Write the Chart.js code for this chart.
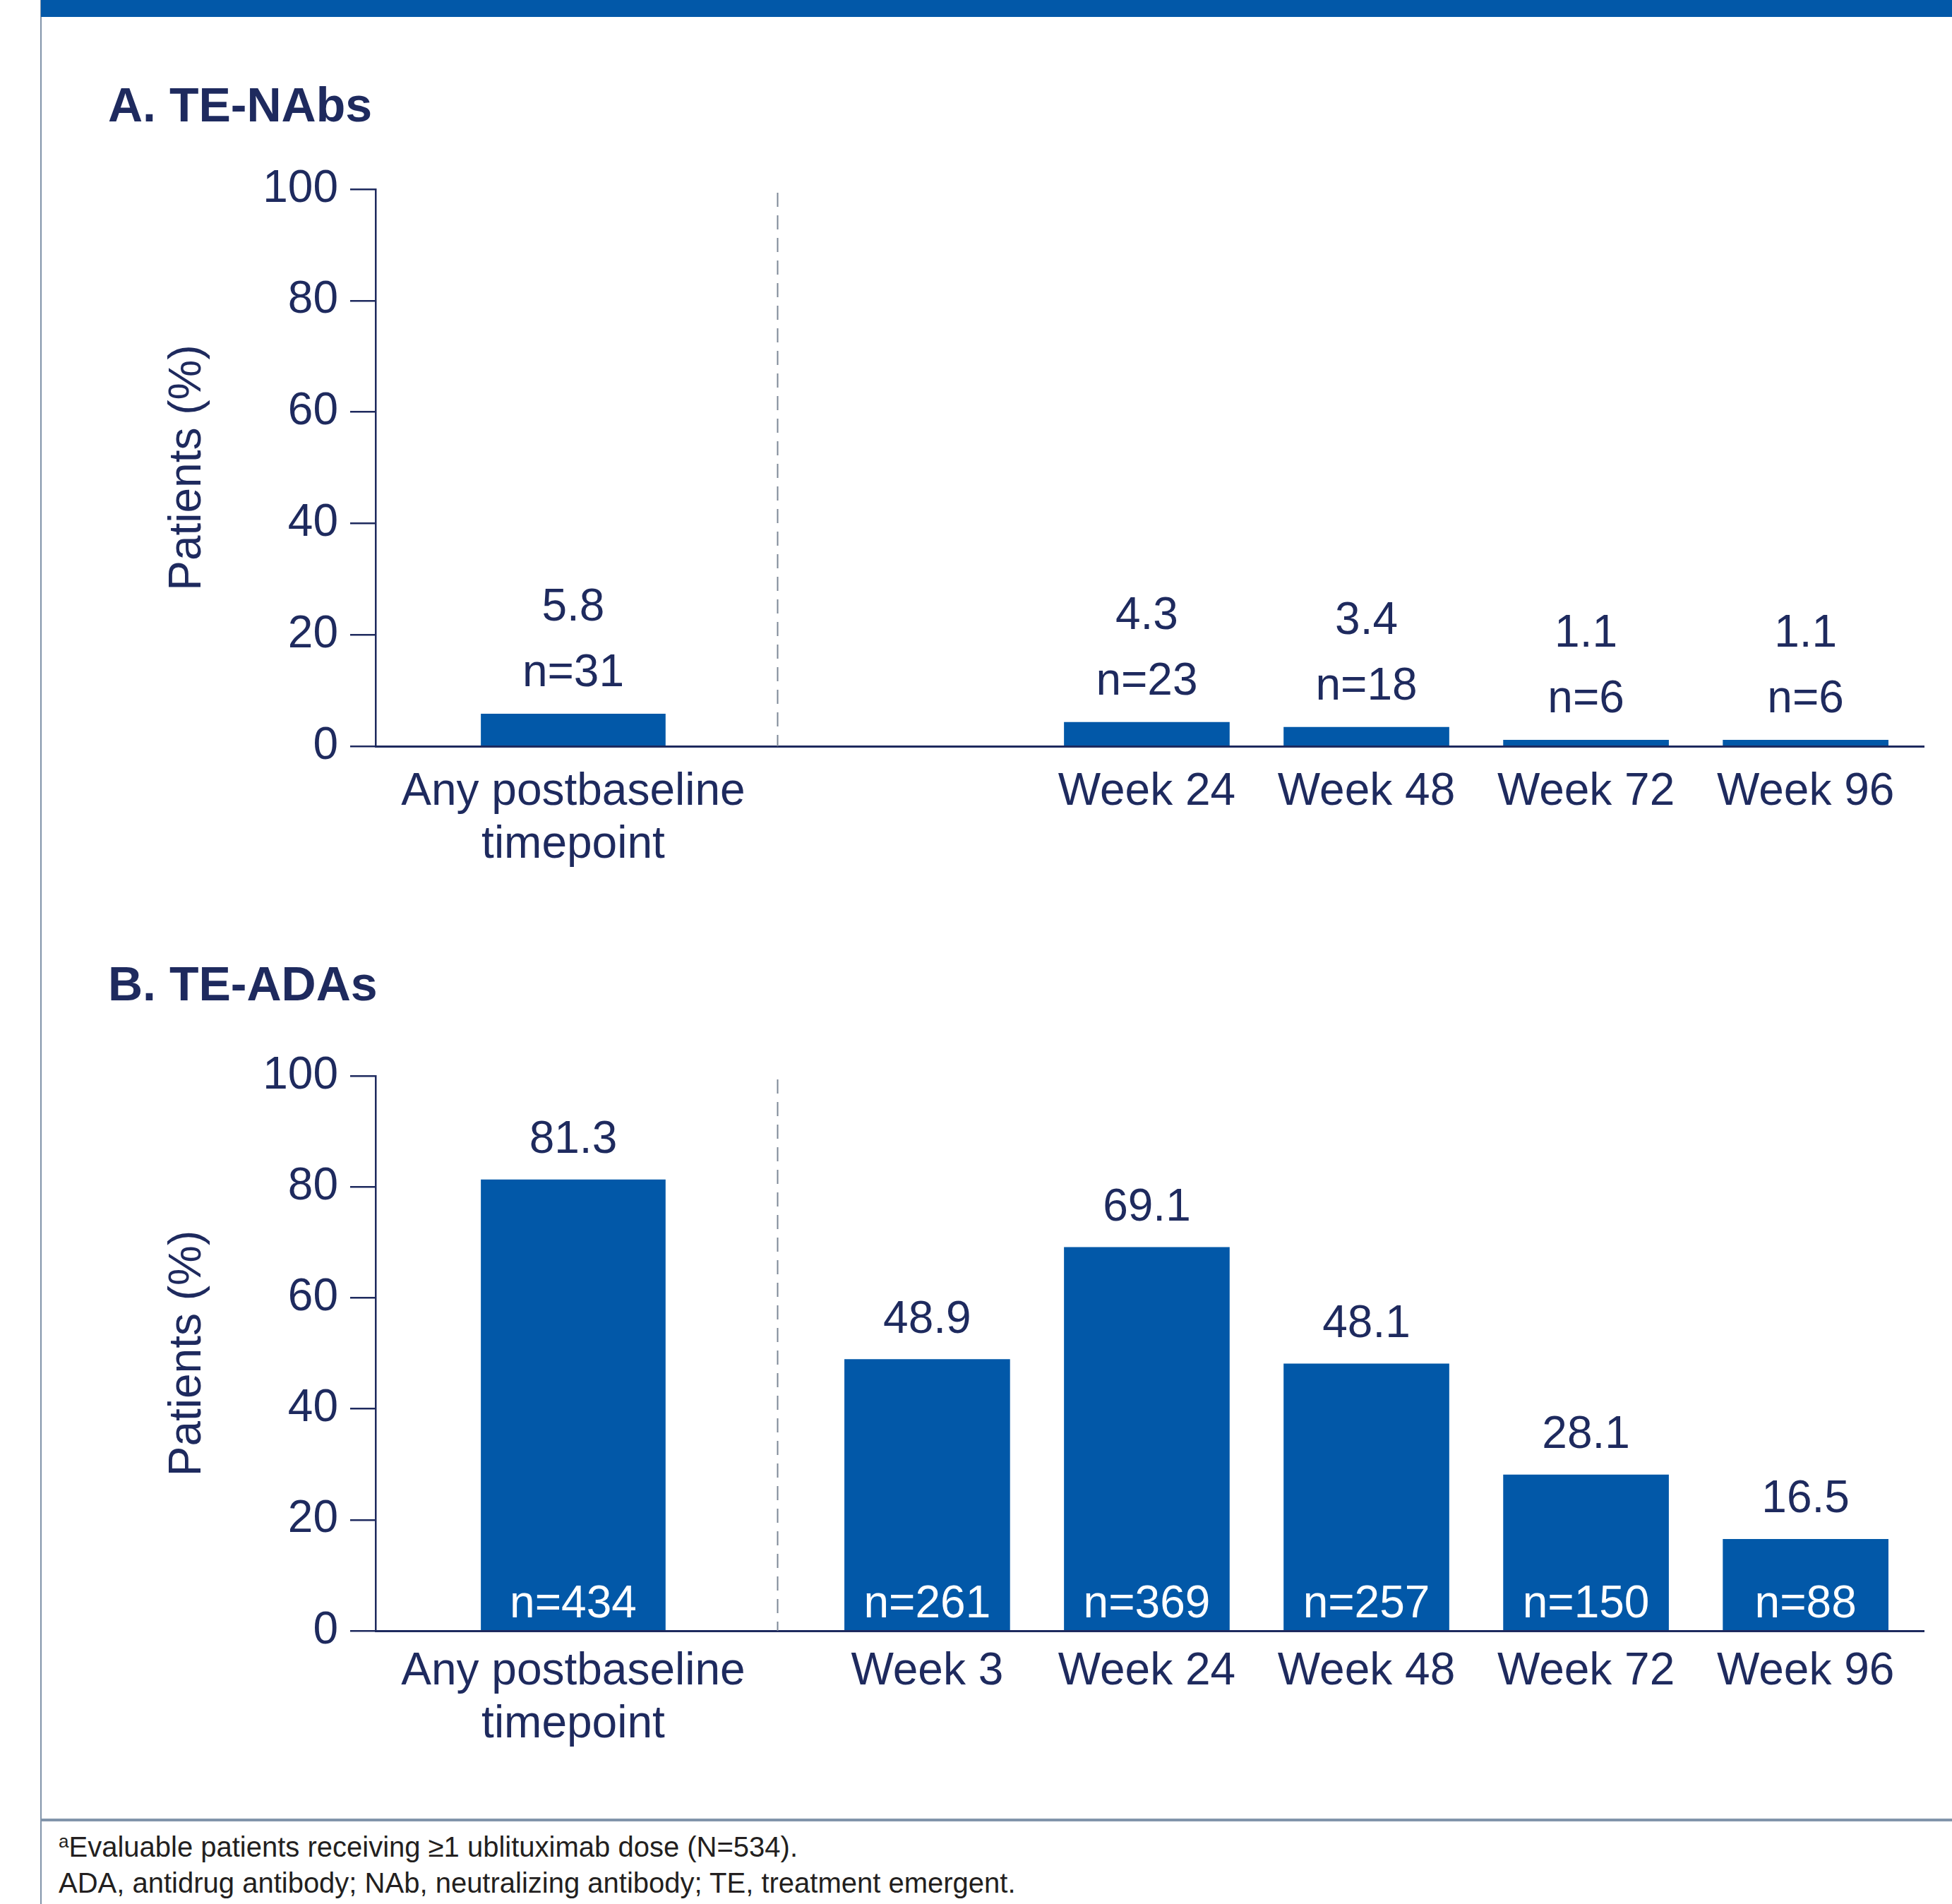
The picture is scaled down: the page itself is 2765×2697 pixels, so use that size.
<!DOCTYPE html>
<html lang="en">
<head>
<meta charset="UTF-8" />
<title>TE-NAbs and TE-ADAs over time</title>
<style>
  html, body { margin: 0; padding: 0; background: #fff; }
  body {
    width: 2765px;
    height: 2697px;
    position: relative;
    overflow: hidden;
    font-family: 'Liberation Sans', Arial, sans-serif;
    color: #1e2a5e;
  }
  .band { position: absolute; left: 58px; top: 0; right: 0; height: 24px; background: #0258a8; }
  .frame { position: absolute; left: 57px; top: 0; width: 2px; height: 2697px; background: #8194aa; }
  .rule { position: absolute; left: 58px; right: 0; top: 2576px; height: 4px; background: #8194aa; }
  .panel-title {
    position: absolute;
    left: 153px;
    margin: 0;
    font-size: 68px;
    line-height: 68px;
    font-weight: bold;
  }
  canvas { position: absolute; left: 0; }
  .notes {
    position: absolute;
    left: 83px;
    top: 2591px;
    font-size: 40px;
    line-height: 51px;
    color: #231f20;
  }
  .notes sup { font-size: 26px; vertical-align: 13px; line-height: 0; }
</style>
</head>
<body>
  <div class="frame"></div>
  <div class="band"></div>

  <h2 class="panel-title" style="top:114px;">A. TE-NAbs</h2>
  <canvas id="nabChart" width="2765" height="1060" style="top:200px;"></canvas>

  <h2 class="panel-title" style="top:1359px;">B. TE-ADAs</h2>
  <canvas id="adaChart" width="2765" height="1060" style="top:1460px;"></canvas>

  <div class="rule"></div>
  <div class="notes">
    <div><sup>a</sup>Evaluable patients receiving ≥1 ublituximab dose (N=534).</div>
    <div>ADA, antidrug antibody; NAb, neutralizing antibody; TE, treatment emergent.</div>
  </div>

  <script src="https://cdn.jsdelivr.net/npm/chart.js"></script>
  <script>
    const categories = [['Any postbaseline', 'timepoint'], 'Week 3', 'Week 24', 'Week 48', 'Week 72', 'Week 96'];
    const nabPct = [5.8, null, 4.3, 3.4, 1.1, 1.1];
    const nabN = [31, null, 23, 18, 6, 6];
    const adaPct = [81.3, 48.9, 69.1, 48.1, 28.1, 16.5];
    const adaN = [434, 261, 369, 257, 150, 88];
    const yTicks = [0, 20, 40, 60, 80, 100];

    const NAVY = '#1e2a5e';
    const BLUE = '#0258a8';
    const FONT = "'Liberation Sans', Arial, sans-serif";

    // overall column sits apart from the weekly columns
    const GAP = 0.612;
    const slot = i => (i === 0 ? 0 : i + GAP);
    const DIVIDER = 0.93;

    function makeChart(id, pct, counts, opts) {
      const pts = pct
        .map((v, i) => ({ x: slot(i), y: v, i: i }))
        .filter(p => p.y !== null);

      const barLabels = {
        id: 'barLabels',
        afterDatasetsDraw(chart) {
          const ctx = chart.ctx;
          const area = chart.chartArea;
          const dx = Math.round(chart.scales.x.getPixelForValue(DIVIDER)) + 0.5;

          ctx.save();
          // dashed divider
          ctx.strokeStyle = '#7d8796';
          ctx.lineWidth = 2;
          ctx.setLineDash([20, 12]);
          ctx.beginPath();
          ctx.moveTo(dx, area.top + 5);
          ctx.lineTo(dx, area.bottom);
          ctx.stroke();
          ctx.setLineDash([]);

          ctx.font = '64px ' + FONT;
          ctx.textAlign = 'center';
          ctx.textBaseline = 'alphabetic';
          chart.data.datasets.forEach((ds, di) => {
            chart.getDatasetMeta(di).data.forEach((bar, j) => {
              const k = ds.data[j].i;
              const val = pct[k].toFixed(1);
              const n = 'n=' + counts[k];
              if (opts.inside) {
                ctx.fillStyle = NAVY;
                ctx.fillText(val, bar.x, bar.y - 38);
                ctx.fillStyle = '#ffffff';
                ctx.fillText(n, bar.x, bar.base - 18);
              } else {
                ctx.fillStyle = NAVY;
                ctx.fillText(n, bar.x, bar.y - 39);
                ctx.fillText(val, bar.x, bar.y - 132);
              }
            });
          });
          ctx.restore();
        }
      };

      return new Chart(document.getElementById(id), {
        type: 'bar',
        data: {
          datasets: [
            { data: pts.filter(p => p.i === 0), backgroundColor: BLUE, barThickness: 261, grouped: false },
            { data: pts.filter(p => p.i > 0), backgroundColor: BLUE, barThickness: 234, grouped: false }
          ]
        },
        options: {
          responsive: false,
          animation: false,
          devicePixelRatio: 1,
          layout: { padding: { top: opts.top, right: 40, left: 0, bottom: 0 } },
          plugins: {
            legend: { display: false },
            tooltip: { enabled: false }
          },
          scales: {
            x: {
              type: 'linear',
              offset: false,
              min: -0.9,
              max: 6.15,
              grid: { display: false, drawTicks: false },
              border: { display: true, color: NAVY, width: 3 },
              afterBuildTicks: s => { s.ticks = pct.map((v, i) => ({ value: slot(i) })); },
              afterFit: s => { s.height = opts.xHeight; },
              ticks: {
                autoSkip: false,
                maxRotation: 0,
                padding: opts.tickPad,
                color: NAVY,
                font: { family: FONT, size: 64, lineHeight: 1.17 },
                callback: (v, i) => (pct[i] === null ? '' : categories[i])
              }
            },
            y: {
              min: 0,
              max: 100,
              afterBuildTicks: s => { s.ticks = yTicks.map(v => ({ value: v })); },
              afterFit: s => { s.width = 532; },
              grid: { drawOnChartArea: false, drawTicks: true, tickLength: 36, color: NAVY, lineWidth: 2.5 },
              border: { color: NAVY, width: 2.5 },
              ticks: { padding: 17, color: NAVY, font: { family: FONT, size: 64 } },
              title: {
                display: true,
                text: 'Patients (%)',
                color: NAVY,
                font: { family: FONT, size: 64 },
                padding: { top: 228, bottom: 0 }
              }
            }
          }
        },
        plugins: [barLabels]
      });
    }

    makeChart('nabChart', nabPct, nabN, { top: 68, xHeight: 203, tickPad: 28, inside: false });
    makeChart('adaChart', adaPct, adaN, { top: 64, xHeight: 210, tickPad: 21, inside: true });
  </script>
</body>
</html>
